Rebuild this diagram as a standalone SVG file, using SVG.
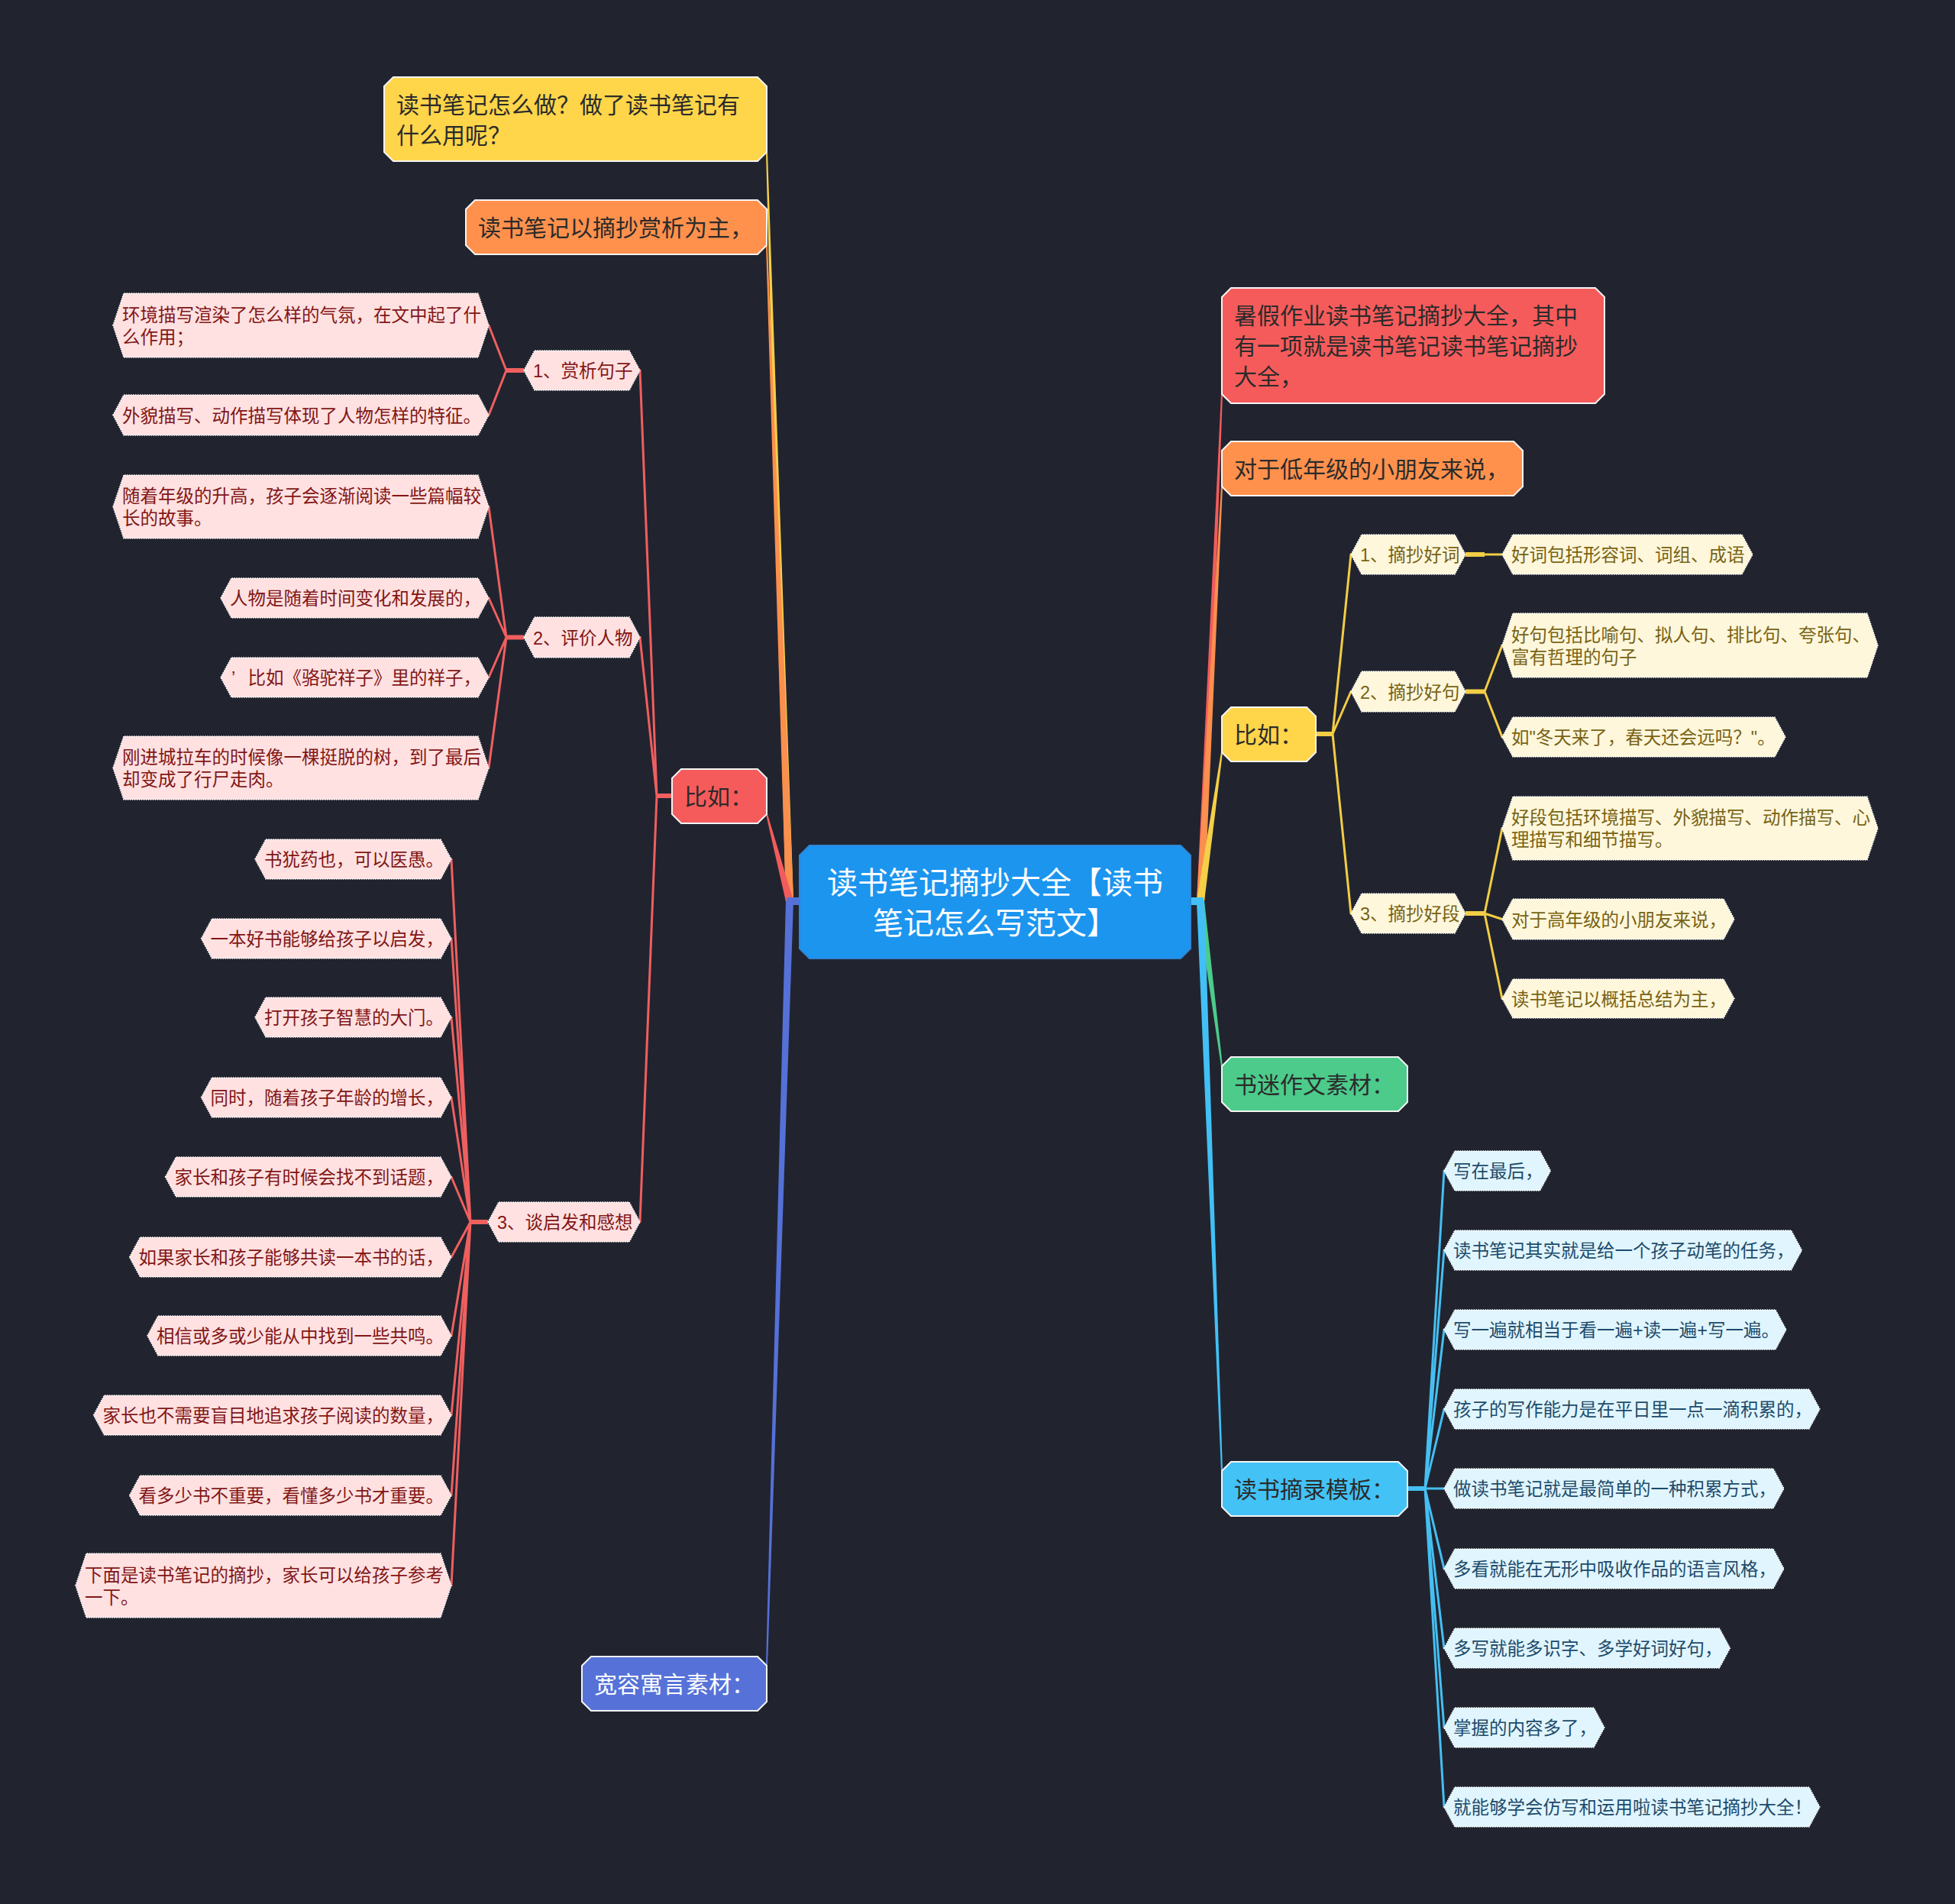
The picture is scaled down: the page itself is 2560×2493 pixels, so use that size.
<svg xmlns="http://www.w3.org/2000/svg" width="2560" height="2493" viewBox="0 0 2560 2493">
<style>
text{font-family:"Liberation Sans","Noto Sans CJK SC",sans-serif}
.t30{font-size:30px;fill:#2b2b2b}
.t30w{font-size:30px;fill:#ffffff}
.t40{font-size:40px;fill:#ffffff}
.lf{font-size:23.5px}
.top{stroke:#f4f4f4;stroke-width:2}
.hr{fill:#ffe1e1;stroke:#ffffff;stroke-width:1.5;stroke-dasharray:1.5 1.5}
.hy{fill:#fff7dc;stroke:#ffffff;stroke-width:1.5;stroke-dasharray:1.5 1.5}
.hc{fill:#e0f5fe;stroke:#ffffff;stroke-width:1.5;stroke-dasharray:1.5 1.5}
.tr{fill:#821616}
.ty{fill:#786314}
.tc{fill:#1d4b6b}
.lr{stroke:#ef5f5f;fill:none;stroke-width:3;stroke-linecap:round}
.ly{stroke:#f2cd45;fill:none;stroke-width:3;stroke-linecap:round}
.lc{stroke:#45bff2;fill:none;stroke-width:3;stroke-linecap:round}
.s{stroke-width:6;stroke-linecap:butt}
</style>
<rect x="0" y="0" width="2560" height="2493" fill="#21242f"/>

<g id="connectors">
  <!-- main branches left -->
  <path d="M1029,1180 L1003,199 L1005,199 L1039,1180 Z" fill="#f5cf48"/>
  <path d="M1029,1180 L1003,321 L1005,321 L1039,1180 Z" fill="#fb8f4e"/>
  <path d="M1029.2,1181.3 L1003,1066.3 L1005,1065.7 L1038.8,1178.7 Z" fill="#f25c5c"/>
  <path d="M1029,1180 L1003,2181 L1005,2181 L1039,1180 Z" fill="#5571d7"/>
  <rect x="1030" y="1175" width="18" height="10" fill="#5571d7"/>
  <!-- main branches right -->
  <path d="M1567,1180 L1599,516 L1601,516 L1577,1180 Z" fill="#f25c5c"/>
  <path d="M1567,1180 L1599,637 L1601,637 L1577,1180 Z" fill="#fb8f4e"/>
  <path d="M1567.05,1179.29 L1599.01,984.86 L1600.99,985.14 L1576.95,1180.71 Z" fill="#f5cf48"/>
  <path d="M1567.04,1180.64 L1599.01,1396.13 L1600.99,1395.87 L1576.96,1179.36 Z" fill="#4ccb8b"/>
  <path d="M1567,1180 L1599,1926 L1601,1926 L1577,1180 Z" fill="#42c0f5"/>
  <rect x="1558" y="1175" width="18" height="10" fill="#42c0f5"/>

  <!-- left 比如 -->
  <path class="lr s" d="M880,1042 H860"/>
  <path class="lr" d="M860,1042 L838,485 M860,1042 L838,834.5 M860,1042 L838,1600"/>
  <path class="lr s" d="M686,485 H663"/>
  <path class="lr" d="M663,485 L640,426 M663,485 L640,543.5"/>
  <path class="lr s" d="M686,834.5 H663"/>
  <path class="lr" d="M663,834.5 L640,663.5 M663,834.5 L640,783 M663,834.5 L640,887 M663,834.5 L640,1005.5"/>
  <path class="lr s" d="M639,1600 H616"/>
  <path class="lr" d="M616,1600 L591,1125 M616,1600 L591,1229 M616,1600 L591,1332 M616,1600 L591,1437 M616,1600 L591,1541 M616,1600 L591,1646 M616,1600 L591,1749 M616,1600 L591,1853 M616,1600 L591,1958 M616,1600 L591,2076"/>

  <!-- right 比如 -->
  <path class="ly s" d="M1723,961 H1745"/>
  <path class="ly" d="M1745,961 L1769,726 M1745,961 L1769,905.5 M1745,961 L1769,1196"/>
  <path class="ly s" d="M1919,726 H1944"/>
  <path class="ly" d="M1944,726 H1967"/>
  <path class="ly s" d="M1919,905.5 H1944"/>
  <path class="ly" d="M1944,905.5 L1967,845 M1944,905.5 L1967,965"/>
  <path class="ly s" d="M1919,1196 H1944"/>
  <path class="ly" d="M1944,1196 L1967,1084.5 M1944,1196 L1967,1203.5 M1944,1196 L1967,1307.5"/>

  <!-- 读书摘录模板 -->
  <path class="lc s" d="M1843,1949 H1866"/>
  <path class="lc" d="M1866,1949 L1891,1533 M1866,1949 L1891,1637 M1866,1949 L1891,1741 M1866,1949 L1891,1845 M1866,1949 L1891,1949 M1866,1949 L1891,2054 M1866,1949 L1891,2158 M1866,1949 L1891,2262 M1866,1949 L1891,2366"/>
</g>

<g id="n-center">
  <path d="M1060,1107 H1546 L1559,1120 V1242 L1546,1255 H1060 L1047,1242 V1120 Z" fill="#1c95ef" stroke="#2f86d6" stroke-width="2"/>
  <text class="t40" x="1303" y="1170" text-anchor="middle">读书笔记摘抄大全【读书</text>
  <text class="t40" x="1303" y="1223" text-anchor="middle">笔记怎么写范文】</text>
</g>

<!-- left top-level -->
<g id="n-q">
  <path class="top" d="M515,101 H992 L1004,113 V199 L992,211 H515 L503,199 V113 Z" fill="#ffd54a"/>
  <text class="t30" x="519" y="147.5">读书笔记怎么做？做了读书笔记有</text>
  <text class="t30" x="519" y="187.5">什么用呢？</text>
</g>
<g id="n-zhaochao">
  <path class="top" d="M622,262 H992 L1004,274 V321 L992,333 H622 L610,321 V274 Z" fill="#ff914d"/>
  <text class="t30" x="626" y="309">读书笔记以摘抄赏析为主，</text>
</g>
<g id="n-biru-l">
  <path class="top" d="M892,1007 H992 L1004,1019 V1066 L992,1078 H892 L880,1066 V1019 Z" fill="#f65b5b"/>
  <text class="t30" x="896" y="1054">比如：</text>
</g>
<g id="n-kuanrong">
  <path class="top" d="M774,2169 H992 L1004,2181 V2228 L992,2240 H774 L762,2228 V2181 Z" fill="#5672d8"/>
  <text class="t30w" x="778" y="2216">宽容寓言素材：</text>
</g>

<!-- right top-level -->
<g id="n-shujia">
  <path class="top" d="M1612,377 H2089 L2101,389 V516 L2089,528 H1612 L1600,516 V389 Z" fill="#f65b5b"/>
  <text class="t30" x="1616" y="424">暑假作业读书笔记摘抄大全，其中</text>
  <text class="t30" x="1616" y="464">有一项就是读书笔记读书笔记摘抄</text>
  <text class="t30" x="1616" y="504">大全，</text>
</g>
<g id="n-dinianji">
  <path class="top" d="M1612,578 H1982 L1994,590 V637 L1982,649 H1612 L1600,637 V590 Z" fill="#ff914d"/>
  <text class="t30" x="1616" y="625">对于低年级的小朋友来说，</text>
</g>
<g id="n-biru-r">
  <path class="top" d="M1612,926 H1711 L1723,938 V985 L1711,997 H1612 L1600,985 V938 Z" fill="#ffd54a"/>
  <text class="t30" x="1616" y="973">比如：</text>
</g>
<g id="n-shumi">
  <path class="top" d="M1612,1384 H1831 L1843,1396 V1443 L1831,1455 H1612 L1600,1443 V1396 Z" fill="#4ccb8b"/>
  <text class="t30" x="1616" y="1431">书迷作文素材：</text>
</g>
<g id="n-moban">
  <path class="top" d="M1612,1914 H1831 L1843,1926 V1973 L1831,1985 H1612 L1600,1973 V1926 Z" fill="#43c2f6"/>
  <text class="t30" x="1616" y="1961">读书摘录模板：</text>
</g>

<!-- red level 2 -->
<g id="n-shangxi">
  <path class="hr" d="M686,485 L700,459 H824 L838,485 L824,511 H700 Z"/>
  <text class="lf tr" x="698" y="494">1、赏析句子</text>
</g>
<g id="n-pingjia">
  <path class="hr" d="M686,834.5 L700,808 H824 L838,834.5 L824,861 H700 Z"/>
  <text class="lf tr" x="698" y="843.5">2、评价人物</text>
</g>
<g id="n-qifa">
  <path class="hr" d="M639,1600 L653,1574 H824 L838,1600 L824,1626 H653 Z"/>
  <text class="lf tr" x="651" y="1609">3、谈启发和感想</text>
</g>

<!-- red leaves -->
<g id="n-r1">
  <path class="hr" d="M148,426 L162,384 H626 L640,426 L626,468 H162 Z"/>
  <text class="lf tr" x="160" y="420.5">环境描写渲染了怎么样的气氛，在文中起了什</text>
  <text class="lf tr" x="160" y="449.5">么作用；</text>
</g>
<g id="n-r2">
  <path class="hr" d="M148,543.5 L162,517 H626 L640,543.5 L626,570 H162 Z"/>
  <text class="lf tr" x="160" y="552.5">外貌描写、动作描写体现了人物怎样的特征。</text>
</g>
<g id="n-r3">
  <path class="hr" d="M148,663.5 L162,622 H626 L640,663.5 L626,705 H162 Z"/>
  <text class="lf tr" x="160" y="658">随着年级的升高，孩子会逐渐阅读一些篇幅较</text>
  <text class="lf tr" x="160" y="687">长的故事。</text>
</g>
<g id="n-r4">
  <path class="hr" d="M289,783 L303,757 H626 L640,783 L626,809 H303 Z"/>
  <text class="lf tr" x="301" y="792">人物是随着时间变化和发展的，</text>
</g>
<g id="n-r5">
  <path class="hr" d="M289,887 L303,861 H626 L640,887 L626,913 H303 Z"/>
  <text class="lf tr" x="303" y="896">’</text>
  <text class="lf tr" x="324.5" y="896">比如《骆驼祥子》里的祥子，</text>
</g>
<g id="n-r6">
  <path class="hr" d="M148,1005.5 L162,964 H626 L640,1005.5 L626,1047 H162 Z"/>
  <text class="lf tr" x="160" y="1000">刚进城拉车的时候像一棵挺脱的树，到了最后</text>
  <text class="lf tr" x="160" y="1029">却变成了行尸走肉。</text>
</g>
<g id="n-q1">
  <path class="hr" d="M334,1125 L348,1099 H577 L591,1125 L577,1151 H348 Z"/>
  <text class="lf tr" x="346" y="1134">书犹药也，可以医愚。</text>
</g>
<g id="n-q2">
  <path class="hr" d="M263.5,1229 L277.5,1203 H577 L591,1229 L577,1255 H277.5 Z"/>
  <text class="lf tr" x="275.5" y="1238">一本好书能够给孩子以启发，</text>
</g>
<g id="n-q3">
  <path class="hr" d="M334,1332 L348,1306 H577 L591,1332 L577,1358 H348 Z"/>
  <text class="lf tr" x="346" y="1341">打开孩子智慧的大门。</text>
</g>
<g id="n-q4">
  <path class="hr" d="M263.5,1437 L277.5,1411 H577 L591,1437 L577,1463 H277.5 Z"/>
  <text class="lf tr" x="275.5" y="1446">同时，随着孩子年龄的增长，</text>
</g>
<g id="n-q5">
  <path class="hr" d="M216.5,1541 L230.5,1515 H577 L591,1541 L577,1567 H230.5 Z"/>
  <text class="lf tr" x="228.5" y="1550">家长和孩子有时候会找不到话题，</text>
</g>
<g id="n-q6">
  <path class="hr" d="M169.5,1646 L183.5,1620 H577 L591,1646 L577,1672 H183.5 Z"/>
  <text class="lf tr" x="181.5" y="1655">如果家长和孩子能够共读一本书的话，</text>
</g>
<g id="n-q7">
  <path class="hr" d="M193,1749 L207,1723 H577 L591,1749 L577,1775 H207 Z"/>
  <text class="lf tr" x="205" y="1758">相信或多或少能从中找到一些共鸣。</text>
</g>
<g id="n-q8">
  <path class="hr" d="M122.5,1853 L136.5,1827 H577 L591,1853 L577,1879 H136.5 Z"/>
  <text class="lf tr" x="134.5" y="1862">家长也不需要盲目地追求孩子阅读的数量，</text>
</g>
<g id="n-q9">
  <path class="hr" d="M169.5,1958 L183.5,1932 H577 L591,1958 L577,1984 H183.5 Z"/>
  <text class="lf tr" x="181.5" y="1967">看多少书不重要，看懂多少书才重要。</text>
</g>
<g id="n-q10">
  <path class="hr" d="M99,2076 L113,2034 H577 L591,2076 L577,2118 H113 Z"/>
  <text class="lf tr" x="111" y="2070.5">下面是读书笔记的摘抄，家长可以给孩子参考</text>
  <text class="lf tr" x="111" y="2099.5">一下。</text>
</g>

<!-- yellow level 2 and leaves -->
<g id="n-haoci">
  <path class="hy" d="M1769,726 L1783,700 H1905 L1919,726 L1905,752 H1783 Z"/>
  <text class="lf ty" x="1781" y="735">1、摘抄好词</text>
</g>
<g id="n-haoju">
  <path class="hy" d="M1769,905.5 L1783,879 H1905 L1919,905.5 L1905,932 H1783 Z"/>
  <text class="lf ty" x="1781" y="914.5">2、摘抄好句</text>
</g>
<g id="n-haoduan">
  <path class="hy" d="M1769,1196 L1783,1170 H1905 L1919,1196 L1905,1222 H1783 Z"/>
  <text class="lf ty" x="1781" y="1205">3、摘抄好段</text>
</g>
<g id="n-y1">
  <path class="hy" d="M1967,726 L1981,700 H2281 L2295,726 L2281,752 H1981 Z"/>
  <text class="lf ty" x="1979" y="735">好词包括形容词、词组、成语</text>
</g>
<g id="n-y2">
  <path class="hy" d="M1967,845 L1981,803 H2445 L2459,845 L2445,887 H1981 Z"/>
  <text class="lf ty" x="1979" y="839.5">好句包括比喻句、拟人句、排比句、夸张句、</text>
  <text class="lf ty" x="1979" y="868.5">富有哲理的句子</text>
</g>
<g id="n-y3">
  <path class="hy" d="M1967,965 L1981,939 H2324 L2338,965 L2324,991 H1981 Z"/>
  <text class="lf ty" x="1979" y="974">如"冬天来了，春天还会远吗？"。</text>
</g>
<g id="n-y4">
  <path class="hy" d="M1967,1084.5 L1981,1043 H2445 L2459,1084.5 L2445,1126 H1981 Z"/>
  <text class="lf ty" x="1979" y="1079">好段包括环境描写、外貌描写、动作描写、心</text>
  <text class="lf ty" x="1979" y="1108">理描写和细节描写。</text>
</g>
<g id="n-y5">
  <path class="hy" d="M1967,1203.5 L1981,1177 H2257 L2271,1203.5 L2257,1230 H1981 Z"/>
  <text class="lf ty" x="1979" y="1212.5">对于高年级的小朋友来说，</text>
</g>
<g id="n-y6">
  <path class="hy" d="M1967,1307.5 L1981,1282 H2257 L2271,1307.5 L2257,1333 H1981 Z"/>
  <text class="lf ty" x="1979" y="1316.5">读书笔记以概括总结为主，</text>
</g>

<!-- cyan leaves -->
<g id="n-c1">
  <path class="hc" d="M1891,1533 L1905,1507 H2016.5 L2030.5,1533 L2016.5,1559 H1905 Z"/>
  <text class="lf tc" x="1903" y="1542">写在最后，</text>
</g>
<g id="n-c2">
  <path class="hc" d="M1891,1637 L1905,1611 H2345.5 L2359.5,1637 L2345.5,1663 H1905 Z"/>
  <text class="lf tc" x="1903" y="1646">读书笔记其实就是给一个孩子动笔的任务，</text>
</g>
<g id="n-c3">
  <path class="hc" d="M1891,1741 L1905,1715 H2325 L2339,1741 L2325,1767 H1905 Z"/>
  <text class="lf tc" x="1903" y="1750">写一遍就相当于看一遍+读一遍+写一遍。</text>
</g>
<g id="n-c4">
  <path class="hc" d="M1891,1845 L1905,1819 H2369 L2383,1845 L2369,1871 H1905 Z"/>
  <text class="lf tc" x="1903" y="1854">孩子的写作能力是在平日里一点一滴积累的，</text>
</g>
<g id="n-c5">
  <path class="hc" d="M1891,1949 L1905,1923 H2322 L2336,1949 L2322,1975 H1905 Z"/>
  <text class="lf tc" x="1903" y="1958">做读书笔记就是最简单的一种积累方式，</text>
</g>
<g id="n-c6">
  <path class="hc" d="M1891,2054 L1905,2028 H2322 L2336,2054 L2322,2080 H1905 Z"/>
  <text class="lf tc" x="1903" y="2063">多看就能在无形中吸收作品的语言风格，</text>
</g>
<g id="n-c7">
  <path class="hc" d="M1891,2158 L1905,2132 H2251.5 L2265.5,2158 L2251.5,2184 H1905 Z"/>
  <text class="lf tc" x="1903" y="2167">多写就能多识字、多学好词好句，</text>
</g>
<g id="n-c8">
  <path class="hc" d="M1891,2262 L1905,2236 H2087 L2101,2262 L2087,2288 H1905 Z"/>
  <text class="lf tc" x="1903" y="2271">掌握的内容多了，</text>
</g>
<g id="n-c9">
  <path class="hc" d="M1891,2366 L1905,2340 H2369 L2383,2366 L2369,2392 H1905 Z"/>
  <text class="lf tc" x="1903" y="2375">就能够学会仿写和运用啦读书笔记摘抄大全！</text>
</g>
</svg>
